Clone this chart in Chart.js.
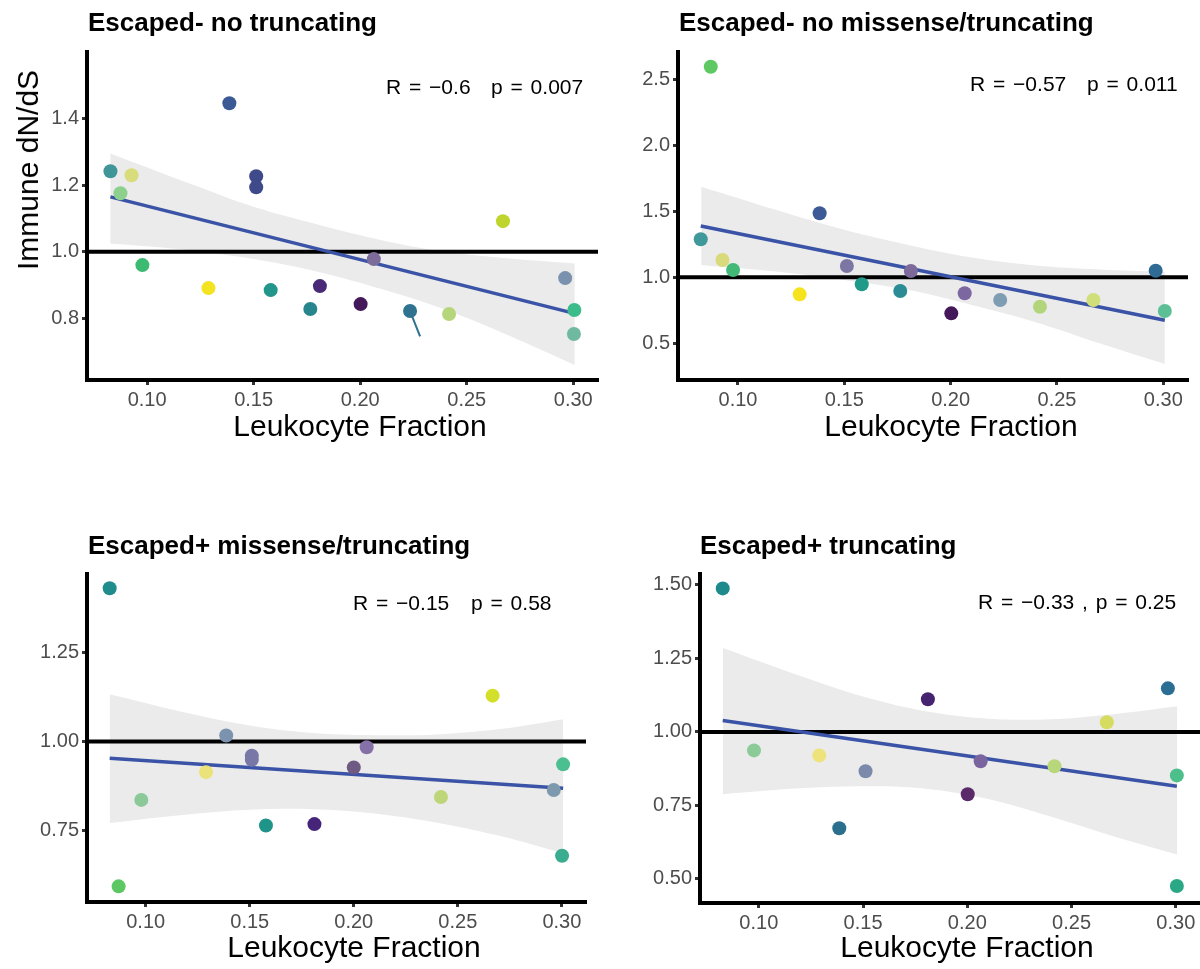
<!DOCTYPE html>
<html>
<head>
<meta charset="utf-8">
<script src="https://cdn.jsdelivr.net/npm/chart.js@4"></script>
<style>
  body { margin: 0; background: #fff; width: 1200px; height: 969px; position: relative; overflow: hidden;
         font-family: "Liberation Sans", Arial, Helvetica, sans-serif; }
  canvas { position: absolute; }
  .t { position: absolute; white-space: pre; line-height: 1; transform: translateY(-50%); color: #000; }
  .title { font-weight: bold; font-size: 26px; }
  .xlab { font-size: 30px; transform: translate(-50%, -50%); }
  .ylab { font-size: 30px; transform: translate(-50%, -50%) rotate(-90deg); }
  .stat { font-size: 21px; word-spacing: 2px; }
</style>
</head>
<body>
<canvas id="c1" width="612" height="420" style="left:0;top:0"></canvas>
<canvas id="c2" width="600" height="420" style="left:600px;top:0"></canvas>
<canvas id="c3" width="600" height="442" style="left:0;top:500px"></canvas>
<canvas id="c4" width="620" height="443" style="left:600px;top:500px"></canvas>

<div class="t title" style="left:88px;top:22px">Escaped- no truncating</div>
<div class="t title" style="left:679px;top:22px">Escaped- no missense/truncating</div>
<div class="t title" style="left:88px;top:545px">Escaped+ missense/truncating</div>
<div class="t title" style="left:700px;top:545px">Escaped+ truncating</div>

<div class="t ylab" style="left:28px;top:170px">Immune dN/dS</div>
<div class="t xlab" style="left:360px;top:426px">Leukocyte Fraction</div>
<div class="t xlab" style="left:951px;top:426px">Leukocyte Fraction</div>
<div class="t xlab" style="left:354px;top:947px">Leukocyte Fraction</div>
<div class="t xlab" style="left:967px;top:947px">Leukocyte Fraction</div>

<div class="t stat" style="left:386px;top:86px">R = −0.6</div>
<div class="t stat" style="left:491px;top:86px">p = 0.007</div>
<div class="t stat" style="left:970px;top:83px">R = −0.57</div>
<div class="t stat" style="left:1087px;top:83px">p = 0.011</div>
<div class="t stat" style="left:353px;top:602px">R = −0.15</div>
<div class="t stat" style="left:471px;top:602px">p = 0.58</div>
<div class="t stat" style="left:978px;top:601px">R = −0.33 , p = 0.25</div>

<script>
const FONT = '"Liberation Sans", Arial, Helvetica, sans-serif';

// shared x axis
const xTicks = [0.10, 0.15, 0.20, 0.25, 0.30];
const xMin = 0.0718;
const xMax = 0.3116;
const bandX = [0.0827, 0.12, 0.15, 0.18, 0.21, 0.24, 0.27, 0.3007];

// panel 1: Escaped- no truncating
const p1X = [0.0828, 0.0927, 0.0875, 0.1386, 0.1512, 0.1512, 0.0978, 0.1288, 0.1580, 0.1766, 0.1811, 0.2002, 0.2064, 0.2234, 0.2417, 0.2670, 0.2962, 0.3005, 0.3003];
const p1Y = [1.242, 1.230, 1.176, 1.446, 1.227, 1.194, 0.960, 0.891, 0.885, 0.828, 0.897, 0.843, 0.978, 0.822, 0.813, 1.092, 0.921, 0.825, 0.753];
const p1Col = ['#3f9597', '#d9dc7a', '#8dcf8c', '#3b5a95', '#3e4a89', '#3e4a89', '#3cba71', '#f4e320', '#23968b', '#27858e', '#4a2a78', '#44185b', '#7d6c9a', '#2f7391', '#b6d67c', '#bfd52e', '#7a92ad', '#3cbc8a', '#6fb9a1'];
const p1LineX = [0.0828, 0.3005];
const p1LineY = [1.165, 0.815];
const p1BandHi = [1.295, 1.205, 1.135, 1.082, 1.035, 1.000, 0.980, 0.965];
const p1BandLo = [1.025, 1.005, 0.978, 0.940, 0.888, 0.826, 0.748, 0.660];
const p1SegX = [0.2234, 0.2281];
const p1SegY = [0.822, 0.746];
const p1YTicks = [0.8, 1.0, 1.2, 1.4];

// panel 2: Escaped- no missense/truncating
const p2X = [0.0872, 0.0825, 0.0927, 0.0977, 0.1290, 0.1384, 0.1512, 0.1582, 0.1763, 0.1813, 0.2003, 0.2066, 0.2233, 0.2420, 0.2671, 0.2964, 0.3007];
const p2Y = [2.595, 1.288, 1.131, 1.055, 0.871, 1.485, 1.086, 0.947, 0.896, 1.048, 0.727, 0.879, 0.828, 0.777, 0.828, 1.050, 0.745];
const p2Col = ['#5ec863', '#3f9899', '#d8da7c', '#43b978', '#f5e31e', '#3b5a96', '#7c76a4', '#1f9a89', '#2b8c95', '#7d6a9b', '#45185a', '#7c67a1', '#7e9cb2', '#b2d57b', '#d0df7a', '#2f6b94', '#5cbf96'];
const p2LineX = [0.0825, 0.3007];
const p2LineY = [1.389, 0.675];
const p2BandHi = [1.686, 1.500, 1.360, 1.245, 1.150, 1.090, 1.060, 1.042];
const p2BandLo = [1.093, 1.040, 0.980, 0.905, 0.790, 0.660, 0.500, 0.343];
const p2YTicks = [0.5, 1.0, 1.5, 2.0, 2.5];

// panel 3: Escaped+ missense/truncating
const p3X = [0.0827, 0.0870, 0.0979, 0.1290, 0.1387, 0.1510, 0.1510, 0.1578, 0.1811, 0.2000, 0.2062, 0.2667, 0.2419, 0.2961, 0.3006, 0.3001];
const p3Y = [1.431, 0.593, 0.836, 0.914, 1.017, 0.960, 0.949, 0.764, 0.768, 0.927, 0.984, 1.129, 0.844, 0.864, 0.936, 0.679];
const p3Col = ['#218c8c', '#5dc863', '#8cc998', '#ece27a', '#7b93ae', '#7878a8', '#7878a8', '#1f958a', '#45247a', '#6e5a82', '#8670a8', '#d3df2a', '#bdd67a', '#7c99ad', '#4bbf8f', '#3aac8f'];
const p3LineX = [0.0827, 0.3006];
const p3LineY = [0.953, 0.869];
const p3BandHi = [1.133, 1.080, 1.045, 1.024, 1.018, 1.020, 1.035, 1.063];
const p3BandLo = [0.771, 0.795, 0.808, 0.810, 0.798, 0.772, 0.735, 0.686];
const p3YTicks = [0.75, 1.00, 1.25];

// panel 4: Escaped+ truncating
const p4X = [0.0827, 0.0977, 0.1290, 0.1386, 0.1512, 0.1811, 0.2002, 0.2064, 0.2418, 0.2669, 0.2962, 0.3005, 0.3005];
const p4Y = [1.488, 0.937, 0.920, 0.672, 0.866, 1.111, 0.788, 0.900, 0.883, 1.033, 1.148, 0.852, 0.476];
const p4Col = ['#1f8a8c', '#8ccb98', '#eee27a', '#2a6f8e', '#7b8aaa', '#46236e', '#5a2a6a', '#7a64a0', '#b8d67a', '#d5dc60', '#2a6e94', '#4cbf8a', '#2aa886'];
const p4LineX = [0.0827, 0.3005];
const p4LineY = [1.039, 0.815];
const p4BandHi = [1.285, 1.190, 1.120, 1.070, 1.045, 1.043, 1.060, 1.087];
const p4BandLo = [0.788, 0.808, 0.815, 0.807, 0.772, 0.712, 0.645, 0.583];
const p4YTicks = [0.50, 0.75, 1.00, 1.25, 1.50];

Chart.defaults.font.family = FONT;

const pairs = (xs, ys) => xs.map((x, i) => ({ x: x, y: ys[i] }));

function makePanel(id, o) {
  const datasets = [
    { type: 'line', data: pairs(bandX, o.hi), borderWidth: 0, pointRadius: 0,
      backgroundColor: '#ebebeb', fill: '+1', tension: 0.35, order: 6 },
    { type: 'line', data: pairs(bandX, o.lo), borderWidth: 0, pointRadius: 0,
      fill: false, tension: 0.35, order: 6 },
    { type: 'line', data: [{ x: xMin, y: 1 }, { x: xMax, y: 1 }], borderColor: '#000',
      borderWidth: 4, pointRadius: 0, fill: false, order: 4 },
    { type: 'line', data: pairs(o.lineX, o.lineY), borderColor: '#3a53a6',
      borderWidth: 3.5, pointRadius: 0, fill: false, order: 3 },
  ];
  if (o.segX) {
    datasets.push({ type: 'line', data: pairs(o.segX, o.segY), borderColor: '#2e7190',
      borderWidth: 2, pointRadius: 0, fill: false, order: 2 });
  }
  datasets.push({ type: 'scatter', data: pairs(o.x, o.y), backgroundColor: o.col,
    pointBackgroundColor: o.col, pointRadius: 7, borderWidth: 0, order: 1 });

  new Chart(document.getElementById(id), {
    type: 'scatter',
    data: { datasets },
    options: {
      responsive: false,
      animation: false,
      layout: { padding: o.pad },
      plugins: { legend: { display: false }, tooltip: { enabled: false } },
      scales: {
        x: {
          type: 'linear', min: xMin, max: xMax,
          afterBuildTicks: (a) => { a.ticks = xTicks.map((v) => ({ value: v })); },
          afterFit: (s) => { s.height = 40; },
          ticks: { callback: (v) => v.toFixed(2), color: '#4d4d4d', font: { size: 20 },
                   padding: 3, maxRotation: 0, autoSkip: false },
          grid: { drawOnChartArea: false, drawTicks: true, tickLength: 5, tickWidth: 3, tickColor: '#333' },
          border: { display: true, color: '#000', width: 4 },
        },
        y: {
          type: 'linear', min: o.yMin, max: o.yMax,
          afterBuildTicks: (a) => { a.ticks = o.yTicks.map((v) => ({ value: v })); },
          afterFit: (s) => { s.width = o.yWidth; },
          ticks: { callback: (v) => v.toFixed(o.dec), color: '#4d4d4d', font: { size: 20 },
                   padding: 3, autoSkip: false },
          grid: { drawOnChartArea: false, drawTicks: true, tickLength: 5, tickWidth: 3, tickColor: '#333' },
          border: { display: true, color: '#000', width: 4 },
        },
      },
    },
  });
}

makePanel('c1', { x: p1X, y: p1Y, col: p1Col, lineX: p1LineX, lineY: p1LineY, hi: p1BandHi, lo: p1BandLo,
  segX: p1SegX, segY: p1SegY, yTicks: p1YTicks, dec: 1, yMin: 0.615, yMax: 1.60, yWidth: 87,
  pad: { top: 52, right: 14, left: 0, bottom: 0 } });
makePanel('c2', { x: p2X, y: p2Y, col: p2Col, lineX: p2LineX, lineY: p2LineY, hi: p2BandHi, lo: p2BandLo,
  yTicks: p2YTicks, dec: 1, yMin: 0.222, yMax: 2.707, yWidth: 78,
  pad: { top: 52, right: 12, left: 0, bottom: 0 } });
makePanel('c3', { x: p3X, y: p3Y, col: p3Col, lineX: p3LineX, lineY: p3LineY, hi: p3BandHi, lo: p3BandLo,
  yTicks: p3YTicks, dec: 2, yMin: 0.549, yMax: 1.471, yWidth: 87,
  pad: { top: 74, right: 14, left: 0, bottom: 0 } });
makePanel('c4', { x: p4X, y: p4Y, col: p4Col, lineX: p4LineX, lineY: p4LineY, hi: p4BandHi, lo: p4BandLo,
  yTicks: p4YTicks, dec: 2, yMin: 0.418, yMax: 1.537, yWidth: 100,
  pad: { top: 74, right: 20, left: 0, bottom: 0 } });
</script>
</body>
</html>
